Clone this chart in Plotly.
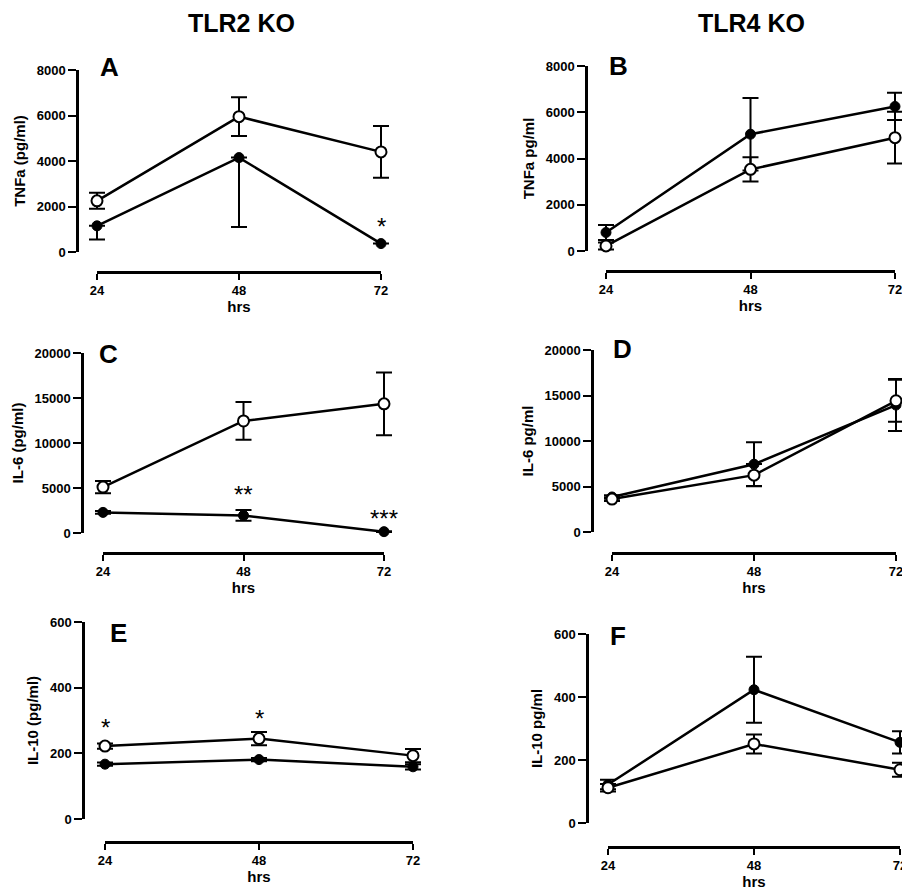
import plotly.graph_objects as go

OFF = 8                          # page body margin in the browser
W, H = 910 - OFF, 892 - OFF      # figure size (the right/bottom body margin falls outside the window)

hours = [24, 48, 72]
tick_hours = ["24", "48", "72"]

# Panel A: TLR2 KO, TNFa
a_open = [2250, 5950, 4400]
a_open_err = [350, 850, 1140]
a_filled = [1150, 4150, 370]
a_filled_err_plus = [0, 0, 0]
a_filled_err_minus = [600, 3050, 0]

# Panel B: TLR4 KO, TNFa
b_open = [220, 3530, 4900]
b_open_err = [150, 520, 1120]
b_filled = [800, 5050, 6250]
b_filled_err = [320, 1570, 590]

# Panel C: TLR2 KO, IL-6
c_open = [5100, 12450, 14350]
c_open_err = [680, 2100, 3480]
c_filled = [2290, 1950, 150]
c_filled_err = [150, 600, 50]

# Panel D: TLR4 KO, IL-6
d_open = [3620, 6250, 14420]
d_open_err = [200, 1220, 2300]
d_filled = [3850, 7450, 13950]
d_filled_err = [200, 2400, 2850]

# Panel E: TLR2 KO, IL-10
e_open = [222, 245, 193]
e_open_err = [8, 20, 20]
e_filled = [167, 181, 159]
e_filled_err = [5, 5, 8]

# Panel F: TLR4 KO, IL-10
f_open = [112, 251, 169]
f_open_err = [12, 30, 22]
f_filled = [122, 423, 256]
f_filled_err = [15, 105, 35]

# significance marks (x, y, text)
a_sig = [(72, 1100, "*")]
c_sig = [(48, 4300, "**"), (72, 1650, "***")]
e_sig = [(24, 280, "*"), (48, 305, "*")]

FONT = "Liberation Sans, Arial, sans-serif"

panels = [
    dict(letter="A", ytitle="TNFa (pg/ml)", ymax=8000, dtick=2000,
         yax_x=77, ytop=70, yzero=252, x24=97, x72=381, xax_y=272, lx=109, ly=67,
         open=a_open, open_p=a_open_err, open_m=a_open_err,
         filled=a_filled, filled_p=a_filled_err_plus, filled_m=a_filled_err_minus, sig=a_sig),
    dict(letter="B", ytitle="TNFa pg/ml", ymax=8000, dtick=2000,
         yax_x=586, ytop=66, yzero=251, x24=606, x72=895, xax_y=271, lx=618, ly=66,
         open=b_open, open_p=b_open_err, open_m=b_open_err,
         filled=b_filled, filled_p=b_filled_err, filled_m=b_filled_err, sig=[]),
    dict(letter="C", ytitle="IL-6 (pg/ml)", ymax=20000, dtick=5000,
         yax_x=82, ytop=353, yzero=533, x24=103, x72=384, xax_y=553, lx=108, ly=354,
         open=c_open, open_p=c_open_err, open_m=c_open_err,
         filled=c_filled, filled_p=c_filled_err, filled_m=c_filled_err, sig=c_sig),
    dict(letter="D", ytitle="IL-6 pg/ml", ymax=20000, dtick=5000,
         yax_x=592, ytop=350, yzero=532, x24=612, x72=896, xax_y=553, lx=622, ly=349,
         open=d_open, open_p=d_open_err, open_m=d_open_err,
         filled=d_filled, filled_p=d_filled_err, filled_m=d_filled_err, sig=[]),
    dict(letter="E", ytitle="IL-10 (pg/ml)", ymax=600, dtick=200,
         yax_x=83, ytop=622, yzero=819, x24=105, x72=413, xax_y=842, lx=118, ly=633,
         open=e_open, open_p=e_open_err, open_m=e_open_err,
         filled=e_filled, filled_p=e_filled_err, filled_m=e_filled_err, sig=e_sig),
    dict(letter="F", ytitle="IL-10 pg/ml", ymax=600, dtick=200,
         yax_x=587, ytop=634, yzero=823, x24=608, x72=900, xax_y=847, lx=618, ly=636,
         open=f_open, open_p=f_open_err, open_m=f_open_err,
         filled=f_filled, filled_p=f_filled_err, filled_m=f_filled_err, sig=[]),
]

PAD_PX = 20  # pixel padding on the hidden data axis so error caps are not clipped


def px(v):
    return min(1.0, max(0.0, (v - OFF) / W))


def py(v):
    return min(1.0, max(0.0, 1 - (v - OFF) / H))


fig = go.Figure()
annotations = []
layout = {}
n = len(panels)

tickfont = dict(family=FONT, size=13, color="black", weight="bold")
titlefont = dict(family=FONT, size=15, color="black", weight="bold")

for i, p in enumerate(panels, start=1):
    xa = "x" if i == 1 else f"x{i}"
    ya = "y" if i == 1 else f"y{i}"
    xd = f"x{i + n}"
    xkey = "xaxis" if i == 1 else f"xaxis{i}"
    ykey = "yaxis" if i == 1 else f"yaxis{i}"
    dkey = f"xaxis{i + n}"

    # invisible trace that makes the displayed (detached) x axis get drawn
    fig.add_trace(go.Scatter(
        x=hours, y=p["open"], xaxis=xd, yaxis=ya, mode="markers",
        marker=dict(opacity=0), hoverinfo="skip", showlegend=False,
    ))
    fig.add_trace(go.Scatter(
        x=hours, y=p["filled"], xaxis=xa, yaxis=ya, mode="lines+markers",
        name="KO", showlegend=False, cliponaxis=False,
        line=dict(color="black", width=2.5),
        marker=dict(symbol="circle", size=10, color="black", line=dict(color="black", width=1)),
        error_y=dict(type="data", symmetric=False, array=p["filled_p"], arrayminus=p["filled_m"],
                     color="black", thickness=2, width=8),
    ))
    fig.add_trace(go.Scatter(
        x=hours, y=p["open"], xaxis=xa, yaxis=ya, mode="lines+markers",
        name="WT", showlegend=False, cliponaxis=False,
        line=dict(color="black", width=2.5),
        marker=dict(symbol="circle", size=11, color="white", line=dict(color="black", width=2)),
        error_y=dict(type="data", symmetric=False, array=p["open_p"], arrayminus=p["open_m"],
                     color="black", thickness=2, width=8),
    ))

    pph = (p["x72"] - p["x24"]) / (hours[-1] - hours[0])
    pad_l = min(PAD_PX, p["x24"] - OFF)
    pad_r = min(PAD_PX, OFF + W - p["x72"])
    # hidden data axis (padded)
    layout[xkey] = dict(
        domain=[px(p["x24"] - pad_l), px(p["x72"] + pad_r)],
        range=[hours[0] - pad_l / pph, hours[-1] + pad_r / pph],
        anchor=ya, visible=False, showgrid=False, zeroline=False, fixedrange=True,
        automargin=False,
    )
    # displayed detached x axis
    layout[dkey] = dict(
        domain=[px(p["x24"]), px(p["x72"])], range=[hours[0], hours[-1]],
        anchor="free", position=py(p["xax_y"]),
        tickmode="array", tickvals=hours, ticktext=tick_hours,
        showline=True, linecolor="black", linewidth=2.5,
        ticks="outside", ticklen=6, tickwidth=2, tickcolor="black",
        showgrid=False, zeroline=False,
        tickfont=tickfont,
        title=dict(text="hrs", standoff=4, font=titlefont),
        fixedrange=True, automargin=False,
    )
    layout[ykey] = dict(
        domain=[py(p["yzero"]), py(p["ytop"])], range=[0, p["ymax"]],
        anchor="free", position=px(p["yax_x"]),
        tick0=0, dtick=p["dtick"], tickformat="d",
        showline=True, linecolor="black", linewidth=2.5,
        ticks="outside", ticklen=8, tickwidth=2, tickcolor="black",
        showgrid=False, zeroline=False,
        tickfont=tickfont,
        title=dict(text=p["ytitle"], standoff=6, font=titlefont),
        fixedrange=True, automargin=False,
    )

    annotations.append(dict(
        text=p["letter"], xref="paper", yref="paper", x=px(p["lx"]), y=py(p["ly"]),
        xanchor="center", yanchor="middle", showarrow=False,
        font=dict(family=FONT, size=26, color="black", weight="bold"),
    ))
    for sx, sy, st in p["sig"]:
        annotations.append(dict(
            text=st, xref=xa, yref=ya, x=sx, y=sy, xanchor="center", yanchor="middle",
            showarrow=False, font=dict(family=FONT, size=24, color="black"),
        ))

annotations.append(dict(text="TLR2 KO", xref="paper", yref="paper", x=px(242), y=py(23),
                        xanchor="center", yanchor="middle", showarrow=False,
                        font=dict(family=FONT, size=25, color="black", weight="bold")))
annotations.append(dict(text="TLR4 KO", xref="paper", yref="paper", x=px(751), y=py(23),
                        xanchor="center", yanchor="middle", showarrow=False,
                        font=dict(family=FONT, size=25, color="black", weight="bold")))

fig.update_layout(
    width=W, height=H,
    margin=dict(l=0, r=0, t=0, b=0, pad=0, autoexpand=False),
    paper_bgcolor="white", plot_bgcolor="rgba(0,0,0,0)",
    showlegend=False,
    annotations=annotations,
    **layout,
)

fig.write_html("out.html")
